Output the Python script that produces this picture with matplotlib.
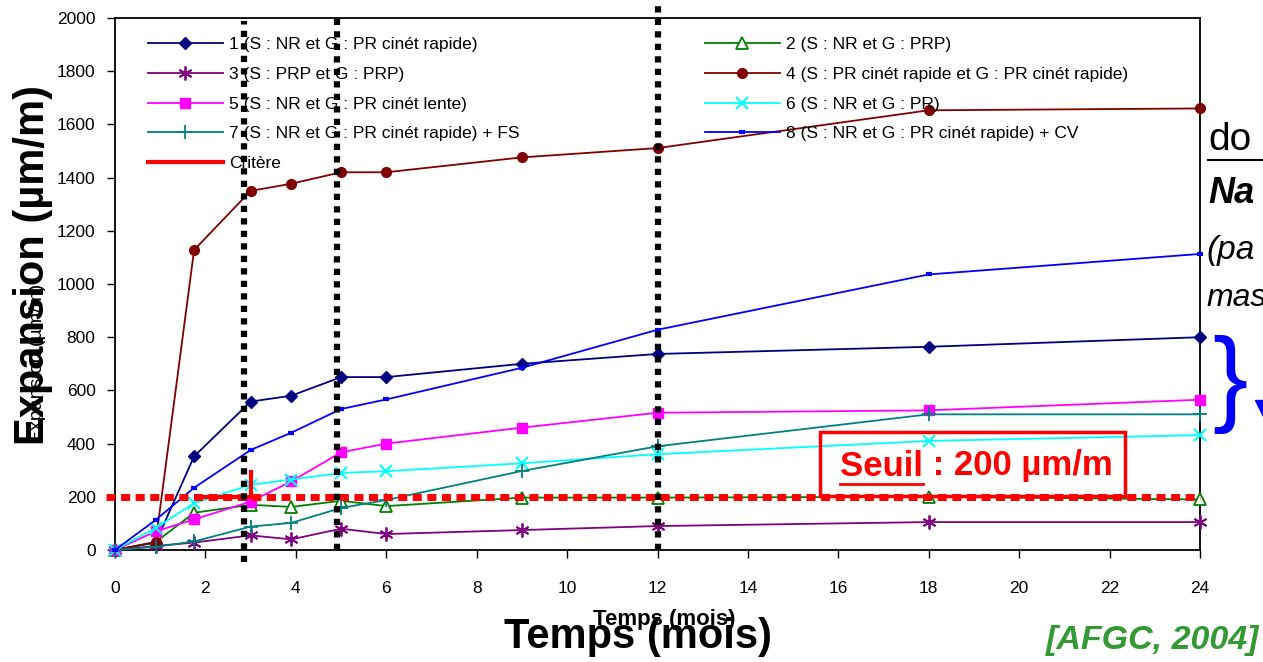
import matplotlib
matplotlib.use("Agg")
import matplotlib.pyplot as plt
from matplotlib.lines import Line2D

plt.rcParams['font.family'] = ['Liberation Sans', 'DejaVu Sans']

# ---------------- data ----------------
months = [0, 0.9, 1.75, 3, 3.9, 5, 6, 9, 12, 18, 24]
s1 = [0, 28, 352, 558, 580, 650, 650, 700, 737, 764, 800]
s2 = [0, 30, 140, 170, 162, 185, 165, 197, 197, 200, 190]
s3 = [0, 15, 28, 55, 40, 80, 60, 75, 90, 105, 105]
s4 = [0, 30, 1128, 1350, 1377, 1420, 1420, 1476, 1511, 1653, 1660]
s5 = [0, 70, 115, 182, 258, 367, 400, 460, 516, 525, 565]
s6 = [0, 83, 176, 245, 265, 290, 296, 326, 360, 410, 432]
s7 = [0, 12, 32, 88, 102, 158, 188, 297, 390, 510, 510]
s8 = [0, 113, 234, 376, 441, 530, 566, 685, 828, 1036, 1113]
critere_x = [2, 3, 3]
critere_y = [200, 200, 295]
seuil = 200
vlines_x = [2.85, 4.9, 12]
vlines_y0 = [-45, 0, 0]
vlines_y1 = [1990, 2010, 2050]

labels = ["1 (S : NR et G : PR cinét rapide)",
          "2 (S : NR et G : PRP)",
          "3 (S : PRP et G : PRP)",
          "4 (S : PR cinét rapide et G : PR cinét rapide)",
          "5 (S : NR et G : PR cinét lente)",
          "6 (S : NR et G : PR)",
          "7 (S : NR et G : PR cinét rapide) + FS",
          "8 (S : NR et G : PR cinét rapide) + CV",
          "Critère"]
xticks = list(range(0, 25, 2))
yticks = list(range(0, 2001, 200))

W, H = 1263, 662
fig = plt.figure(figsize=(W / 100, H / 100), dpi=100)
ax = fig.add_axes([115 / W, 1 - 550 / H, (1200 - 115) / W, (550 - 18) / H])

def fp(x, y):
    return (x / W, 1 - y / H)

lw = 1.3
styles = [
    dict(color='#000080', marker='D', ms=6.5, mfc='#000080', mec='#000080'),
    dict(color='#008000', marker='^', ms=8, mfc='white', mec='#008000', mew=1.3),
    dict(color='#800080', marker=(6, 2, 0), ms=10, mec='#800080', mew=1.3),
    dict(color='#800000', marker='o', ms=7, mfc='#800000', mec='#800000'),
    dict(color='#ff00ff', marker='s', ms=7.5, mfc='#ff00ff', mec='#ff00ff'),
    dict(color='#00ffff', marker='x', ms=8.5, mec='#00ffff', mew=1.5),
    dict(color='#008080', marker='+', ms=10, mec='#008080', mew=1.3),
    dict(color='#0000ff', marker='_', ms=5, mec='#0000ff', mew=3),
]
series = [s1, s2, s3, s4, s5, s6, s7, s8]
handles = []
for s, st, lab in zip(series, styles, labels[:8]):
    h, = ax.plot(months, s, lw=lw, label=lab, zorder=3, clip_on=False, **st)
    handles.append(h)

hc, = ax.plot(critere_x, critere_y, color='#ff0000', lw=3, zorder=4, label=labels[8])
handles.append(hc)

# red dotted threshold line
ax.plot([-0.2, 24], [seuil, seuil], color='#ff0000', lw=5,
        linestyle=(0, (1.3, 0.8)), dash_capstyle='butt', zorder=5, clip_on=False)

# black dotted vertical lines
for xv, y0, y1 in zip(vlines_x, vlines_y0, vlines_y1):
    ax.plot([xv, xv], [y0, y1], color='black', lw=4.5, linestyle=(0, (1, 1)),
            dash_capstyle='butt', zorder=6, clip_on=False)

ax.set_xlim(0, 24)
ax.set_ylim(0, 2000)
ax.set_xticks(xticks)
ax.set_yticks(yticks)
ax.tick_params(axis='x', direction='out', length=6, width=1, pad=16, labelsize=12.5)
ax.tick_params(axis='y', direction='out', length=6, width=1, pad=8, labelsize=12.5)
for sp in ax.spines.values():
    sp.set_linewidth(1.3)

# legends
leg_kw = dict(frameon=False, fontsize=12.5, handlelength=4.3, handletextpad=0.35,
              labelspacing=0.84, borderpad=0, borderaxespad=0, loc='upper left')
order1 = [0, 2, 4, 6, 8]
order2 = [1, 3, 5, 7]
leg1 = ax.legend([handles[i] for i in order1], [labels[i] for i in order1],
                 bbox_to_anchor=fp(148, 37), bbox_transform=fig.transFigure, **leg_kw)
ax.add_artist(leg1)
leg2 = ax.legend([handles[i] for i in order2], [labels[i] for i in order2],
                 bbox_to_anchor=fp(705, 37), bbox_transform=fig.transFigure, **leg_kw)

# axis titles (overlapping big / small)
fig.text(*fp(33, 265), "Expansion (µm/m)", rotation=90, fontsize=30, fontweight='bold',
         ha='center', va='center')
fig.text(*fp(37, 443), "Expansion (µm/m)", rotation=90, fontsize=14,
         ha='left', va='center', rotation_mode='anchor')
fig.text(*fp(638, 637), "Temps (mois)", fontsize=30, fontweight='bold',
         ha='center', va='center')
fig.text(*fp(664, 620), "Temps (mois)", fontsize=16, fontweight='bold',
         ha='center', va='center')

# right side texts (cut by figure edge)
fig.text(*fp(1208, 140), "do", fontsize=28, ha='left', va='center')
fig.add_artist(Line2D([1208 / W, 1263 / W], [1 - 160 / H, 1 - 160 / H], color='black', lw=1.5))
fig.text(*fp(1208, 193), "Na", fontsize=26, fontweight='bold', fontstyle='italic',
         ha='left', va='center')
fig.text(*fp(1206, 250), "(pa", fontsize=24, fontstyle='italic', ha='left', va='center')
fig.text(*fp(1206, 298), "mas", fontsize=23, fontstyle='italic', ha='left', va='center')
fig.text(*fp(1230, 384), "}", fontsize=76, color='#0000ff', ha='center', va='center')
fig.add_artist(Line2D([1265 / W], [1 - 410 / H], marker='v', ms=14, color='#0000ff', lw=0))

fig.text(*fp(1046, 640), "[AFGC, 2004]", fontsize=24.5, fontweight='bold', fontstyle='italic',
         color='#339933', ha='left', va='center')

# Seuil box
fig.add_artist(plt.Rectangle(fp(820, 496), (1125 - 820) / W, (496 - 432) / H,
                             fill=False, edgecolor='#ff0000', lw=2.5))
t1 = fig.text(*fp(840, 466), "Seuil", fontsize=25, fontweight='bold', color='#ff0000',
              ha='left', va='center')
fig.canvas.draw()
r = fig.canvas.get_renderer()
bb = t1.get_window_extent(r)
fig.text(bb.x1 / W, 1 - 466 / H, " : 200 µm/m", fontsize=25, fontweight='bold',
         color='#ff0000', ha='left', va='center')
fig.add_artist(Line2D([bb.x0 / W, bb.x1 / W], [(bb.y0 - 1) / H, (bb.y0 - 1) / H],
                      color='#ff0000', lw=2))

fig.savefig("out.png", dpi=100)
